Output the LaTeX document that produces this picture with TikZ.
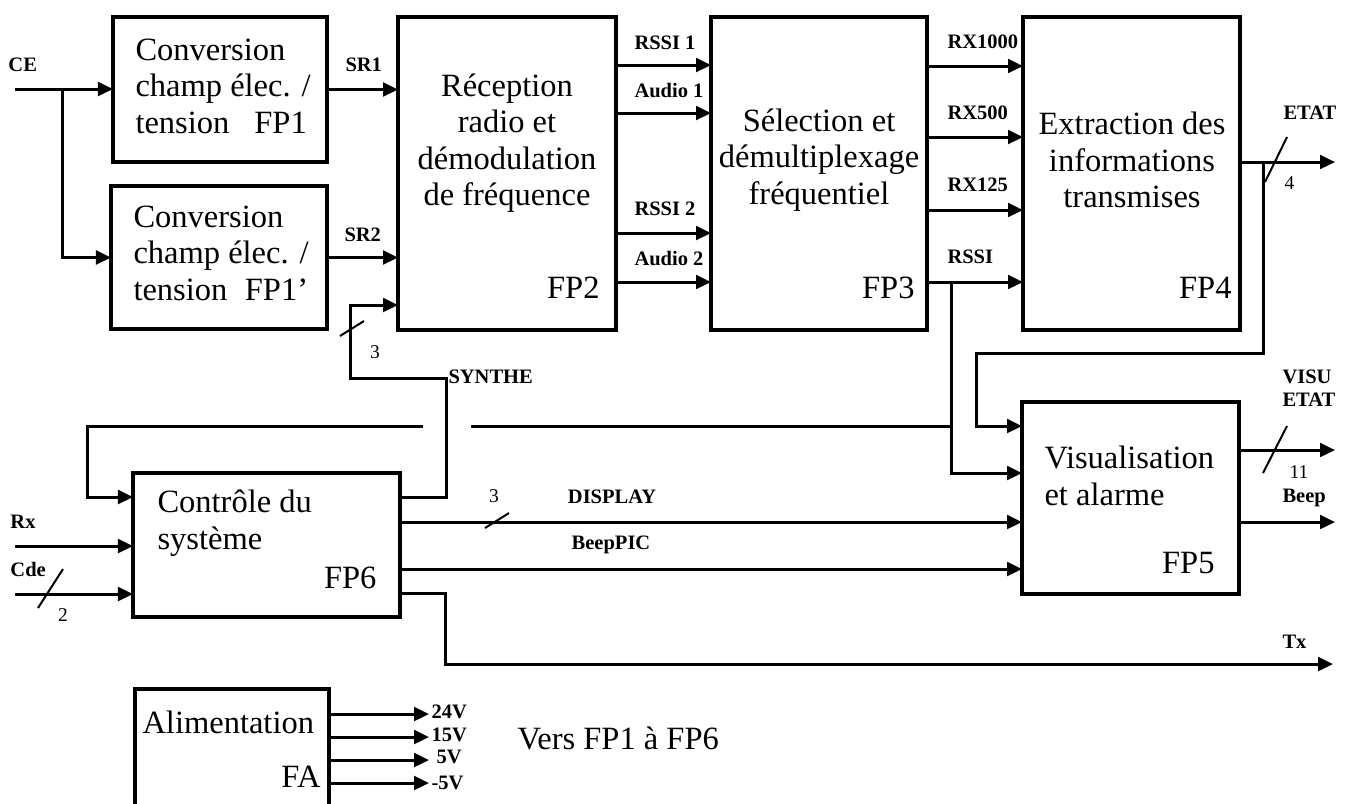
\documentclass[tikz,border=0pt]{standalone}
\usepackage{fontspec}
\setmainfont{Liberation Serif}
\usetikzlibrary{arrows.meta}
\begin{document}
\begin{tikzpicture}[x=0.4pt,y=-0.4pt,
  box/.style={draw,line width=1.6pt,inner sep=0pt,outer sep=0pt},
  wire/.style={line width=1.2pt},
  arr/.style={line width=1.2pt,-{Triangle[length=6pt,width=5.5pt]}},
  slash/.style={line width=0.8pt},
  lbl/.style={font=\bfseries\fontsize{8.2}{9.2}\selectfont,inner sep=0pt},
  num/.style={font=\fontsize{7.8}{8.8}\selectfont,inner sep=0pt},
  txt/.style={font=\fontsize{13}{14.6}\selectfont,inner sep=0pt},
  ctxt/.style={txt,align=center},
  ltxt/.style={txt,align=left}]
\useasboundingbox (0,0) rectangle (1351,803);
\clip (0,0) rectangle (1351,803);
% boxes
\node[box,minimum width=85.6pt,minimum height=58pt] (fp1) at (220,89.5) {};
\node[box,minimum width=86.4pt,minimum height=57.2pt] (fp1p) at (219,257.5) {};
\node[box,minimum width=87.2pt,minimum height=125.2pt] (fp2) at (507,173.5) {};
\node[box,minimum width=86.4pt,minimum height=125.2pt] (fp3) at (819,173.5) {};
\node[box,minimum width=86.8pt,minimum height=125.2pt] (fp4) at (1131.5,173.5) {};
\node[box,minimum width=86.8pt,minimum height=76.8pt] (fp5) at (1130.5,498) {};
\node[box,minimum width=106.8pt,minimum height=57.6pt] (fp6) at (266.5,545) {};
\node[box,minimum width=77.6pt,minimum height=56pt] (fa) at (232,759) {};
% box texts
\node[ltxt,anchor=west] (t1) at (135,86) {Conversion\\champ élec. /\\tension\hspace{10pt}FP1};
\node[ltxt,anchor=west] (t1p) at (133,253) {Conversion\\champ élec. /\\tension\hspace{7pt}FP1’};
\node[ctxt] (t2) at (507,143) {Réception\\radio et\\démodulation\\de fréquence};
\node[txt,anchor=east] (l2) at (600,288) {FP2};
\node[ctxt] (t3) at (819,160) {Sélection et\\démultiplexage\\fréquentiel};
\node[txt,anchor=east] (l3) at (915,288) {FP3};
\node[ctxt] (t4) at (1132,160) {Extraction des\\informations\\transmises};
\node[txt,anchor=east] (l4) at (1232,288) {FP4};
\node[ltxt,anchor=west] (t5) at (1044,476) {Visualisation\\et alarme};
\node[txt,anchor=east] (l5) at (1215,563) {FP5};
\node[ltxt,anchor=west] (t6) at (157,523) {Contrôle du\\système};
\node[txt,anchor=east] (l6) at (377,578) {FP6};
\node[txt,anchor=west] (ta) at (142,722) {Alimentation};
\node[txt,anchor=east] (la) at (321,777) {FA};
\node[txt,anchor=west] (vers) at (517,738) {Vers FP1 à FP6};
% inputs
\coordinate (ce) at (15,89);
\coordinate (ceb) at (62,89);
\draw[arr] (ce) -- (ce -| fp1.west);
\draw[arr] (ceb) |- (fp1p.west);
\node[lbl,anchor=west] (lce) at (8,65) {CE};
\draw[arr] (fp1.east) -- (fp1.east -| fp2.west);
\draw[arr] (fp1p.east) -- (fp1p.east -| fp2.west);
\node[lbl,anchor=west] (lsr1) at (345,65) {SR1};
\node[lbl,anchor=west] (lsr2) at (344,235) {SR2};
% FP2 -> FP3
\draw[arr] (fp2.east |- 0,65) -- (fp3.west |- 0,65);
\draw[arr] (fp2.east |- 0,113) -- (fp3.west |- 0,113);
\draw[arr] (fp2.east |- 0,233) -- (fp3.west |- 0,233);
\draw[arr] (fp2.east |- 0,282) -- (fp3.west |- 0,282);
\node[lbl] (lr1) at (665,43) {RSSI 1};
\node[lbl] (la1) at (669,90) {Audio 1};
\node[lbl] (lr2) at (665,209) {RSSI 2};
\node[lbl] (la2) at (669,258) {Audio 2};
% FP3 -> FP4
\draw[arr] (fp3.east |- 0,66) -- (fp4.west |- 0,66);
\draw[arr] (fp3.east |- 0,137) -- (fp4.west |- 0,137);
\draw[arr] (fp3.east |- 0,210) -- (fp4.west |- 0,210);
\draw[arr] (fp3.east |- 0,282) -- (fp4.west |- 0,282);
\node[lbl,anchor=west] (lx1) at (947,42) {RX1000};
\node[lbl,anchor=west] (lx2) at (947,113) {RX500};
\node[lbl,anchor=west] (lx3) at (947,185) {RX125};
\node[lbl,anchor=west] (lx4) at (947,257) {RSSI};
% ETAT
\coordinate (etatend) at (1335,162);
\draw[arr] (fp4.east |- etatend) -- (etatend);
\draw[arr] (1263,162) -- (1263,353) -- (976,353) -- (976,426) -- (fp5.west |- 0,426);
\draw[slash] (1265,182) -- (1287,137);
\node[lbl,anchor=west] (letat) at (1283,113) {ETAT};
\node[num,anchor=west] (n4) at (1284,183) {4};
% RSSI to FP5 and feedback to FP6
\draw[arr] (951,282) -- (951,473) -- (fp5.west |- 0,473);
\draw[wire] (951,426) -- (471,426);
\draw[arr] (423,426) -- (87,426) -- (87,497) -- (fp6.west |- 0,497);
% SYNTHE
\draw[arr] (fp6.east |- 0,497) -- (446,497) -- (446,378) -- (350,378) -- (350,305) -- (fp2.west |- 0,305);
\draw[slash] (340,336) -- (364,321);
\node[num] (n3a) at (375,352) {3};
\node[lbl,anchor=west] (lsyn) at (448,377) {SYNTHE};
% DISPLAY, BeepPIC, Tx
\draw[arr] (fp6.east |- 0,522) -- (fp5.west |- 0,522);
\draw[slash] (485,528) -- (509,513);
\node[num] (n3b) at (494,496) {3};
\node[lbl] (ldisp) at (612,497) {DISPLAY};
\draw[arr] (fp6.east |- 0,569) -- (fp5.west |- 0,569);
\node[lbl] (lbpic) at (611,545) {BeepPIC};
\draw[arr] (fp6.east |- 0,593) -- (445,593) -- (445,664) -- (1333,664);
\node[lbl,anchor=west] (ltx) at (1282,642) {Tx};
% FP5 outputs
\draw[arr] (fp5.east |- 0,450) -- (1335,450);
\draw[slash] (1263,473) -- (1287,426);
\node[lbl,anchor=west] (lvisu) at (1282,377) {VISU};
\node[lbl,anchor=west] (lvetat) at (1282,400) {ETAT};
\node[num,anchor=west] (n11) at (1289,472) {11};
\draw[arr] (fp5.east |- 0,522) -- (1335,522);
\node[lbl,anchor=west] (lbeep) at (1282,498) {Beep};
% FP6 inputs
\draw[arr] (15,546) -- (fp6.west |- 0,546);
\draw[arr] (15,594) -- (fp6.west |- 0,594);
\draw[slash] (38,608) -- (63,569);
\node[lbl,anchor=west] (lrx) at (10,522) {Rx};
\node[lbl,anchor=west] (lcde) at (10,569) {Cde};
\node[num] (n2) at (63,615) {2};
% FA outputs
\draw[arr] (fa.east |- 0,714) -- (429,714);
\draw[arr] (fa.east |- 0,737) -- (429,737);
\draw[arr] (fa.east |- 0,760) -- (429,760);
\draw[arr] (fa.east |- 0,783) -- (429,783);
\node[lbl,anchor=west] (v24) at (431,712) {24V};
\node[lbl,anchor=west] (v15) at (431,735) {15V};
\node[lbl,anchor=west] (v5) at (436,757) {5V};
\node[lbl,anchor=west] (vm5) at (431,783) {-5V};
\end{tikzpicture}
\end{document}
